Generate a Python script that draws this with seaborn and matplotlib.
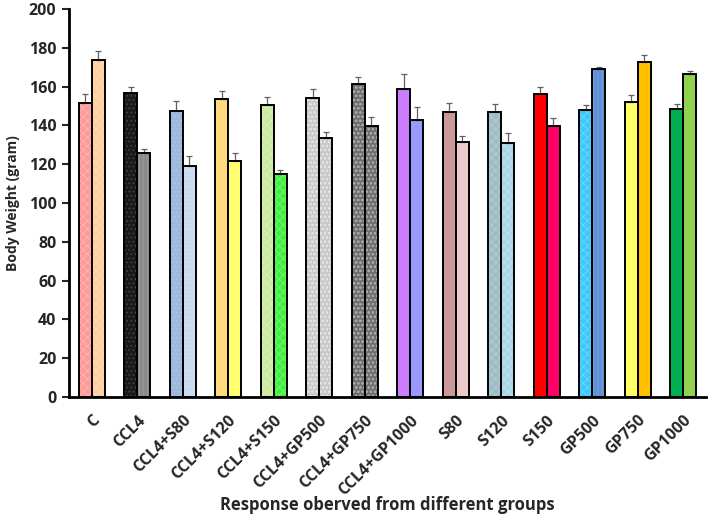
import matplotlib
matplotlib.use("Agg")
import matplotlib.pyplot as plt
import matplotlib.patches as mpatches
import seaborn as sns
import pandas as pd
import numpy as np

# ---- data ----
groups = ["C", "CCL4", "CCL4+S80", "CCL4+S120", "CCL4+S150", "CCL4+GP500",
          "CCL4+GP750", "CCL4+GP1000", "S80", "S120", "S150", "GP500",
          "GP750", "GP1000"]
first_vals = [151.5, 156.5, 147.6, 153.8, 150.7, 154.0, 161.5, 158.8,
              147.1, 146.7, 156.0, 148.1, 151.9, 148.5]
first_err = [4.5, 3.5, 5.0, 4.0, 4.0, 4.6, 3.6, 7.5, 4.6, 4.2, 4.0, 2.3, 3.6, 2.4]
second_vals = [173.7, 125.6, 119.0, 121.5, 115.0, 133.7, 139.7, 142.9,
               131.6, 131.1, 139.9, 169.2, 172.8, 166.6]
second_err = [4.5, 2.0, 5.0, 4.5, 2.2, 3.0, 4.5, 6.4, 3.0, 4.8, 3.8, 1.0, 3.3, 1.2]

first_colors = ["#FF9A9A", "#1A1A1A", "#9DB8DC", "#FFD97A", "#CDEB9E", "#C9C9C9",
                "#6E6E6E", "#CC7DFF", "#CC9999", "#9DBCC4", "#FF0000", "#3CC8FA",
                "#FFFF66", "#00B050"]
second_colors = ["#FFCFA0", "#8A8A8A", "#C8DAF0", "#FFFF70", "#40F040", "#C9C9C9",
                 "#707070", "#9999FF", "#EDCBCB", "#A9D6E6", "#FF0066", "#5F90D6",
                 "#FFC000", "#92D050"]
first_hatch = ["xxxx", "....", "....", "", "xxxx", "oooo", "oooo", "", "", "xxxx",
               "", "xxxx", "", ""]
second_hatch = ["xxxx", "||||", "....", "", "xxxx", "oooo", "oooo", "", "", "xxxx",
                "", "||||", "", ""]
first_hcol = ["#FFBDBD", "#505050", "#B5CAE6", "#FFD97A", "#DCF2BC", "#E2E2E2",
              "#A8A8A8", "#CC7DFF", "#CC9999", "#B8D0D6", "#FF0000", "#78D8FC",
              "#FFFF66", "#00B050"]
second_hcol = ["#FFDDBD", "#A0A0A0", "#D8E5F5", "#FFFF70", "#80F880", "#E2E2E2",
               "#A8A8A8", "#9999FF", "#EDCBCB", "#C4E4F0", "#FF0066", "#7EA6E0",
               "#FFC000", "#92D050"]

df = pd.DataFrame({
    "group": groups * 2,
    "series": ["A"] * len(groups) + ["B"] * len(groups),
    "value": first_vals + second_vals,
})

sns.set_style("white")
plt.rcParams["font.family"] = ["Open Sans", "DejaVu Sans"]
plt.rcParams["hatch.linewidth"] = 0.5

fig = plt.figure(figsize=(7.09, 5.14), dpi=100)
ax = fig.add_axes([69 / 709, 1 - 397 / 514, (706 - 69) / 709, (397 - 9) / 514])

sns.barplot(data=df, x="group", y="value", hue="series", order=groups,
            hue_order=["A", "B"], width=0.58, gap=0, errorbar=None,
            palette=["#999999", "#999999"], legend=False, ax=ax)

conts = ax.containers
for cont, cols, hts, hcols, errs in [
        (conts[0], first_colors, first_hatch, first_hcol, first_err),
        (conts[1], second_colors, second_hatch, second_hcol, second_err)]:
    xs, ys = [], []
    for i, p in enumerate(cont.patches):
        p.set_facecolor(cols[i])
        p.set_hatch(hts[i])
        p.set_edgecolor(hcols[i])
        p.set_linewidth(0)
        outline = mpatches.Rectangle((p.get_x(), p.get_y()), p.get_width(),
                                     p.get_height(), fill=False,
                                     edgecolor="black", linewidth=1.4, zorder=3)
        ax.add_patch(outline)
        xs.append(p.get_x() + p.get_width() / 2)
        ys.append(p.get_height())
    ax.errorbar(xs, ys, yerr=[np.zeros(len(errs)), errs], fmt="none",
                ecolor="#606060", elinewidth=0.9, capsize=2.5, capthick=0.9,
                zorder=2)

ax.set_ylim(0, 200)
ax.set_yticks(np.arange(0, 201, 20))
ax.set_xlim(-0.5, len(groups) - 0.5)
for s in ["top", "right"]:
    ax.spines[s].set_visible(False)
for s in ["left", "bottom"]:
    ax.spines[s].set_color("black")
    ax.spines[s].set_linewidth(2)
ax.tick_params(axis="y", direction="out", length=5, width=1.5, left=True,
               labelsize=11.5, pad=4)
ax.tick_params(axis="x", length=0, labelsize=11.5, pad=11)
for lab in ax.get_yticklabels():
    lab.set_fontweight("bold")
for lab in ax.get_xticklabels():
    lab.set_rotation(45)
    lab.set_ha("right")
    lab.set_rotation_mode("anchor")
    lab.set_fontweight("bold")

ax.set_ylabel("Body Weight (gram)", fontsize=10, fontweight="bold", labelpad=6)
ax.set_xlabel("Response oberved from different groups", fontsize=12,
              fontweight="bold")
ax.xaxis.set_label_coords(0.5, -0.255)

fig.savefig("out.png", dpi=100)
